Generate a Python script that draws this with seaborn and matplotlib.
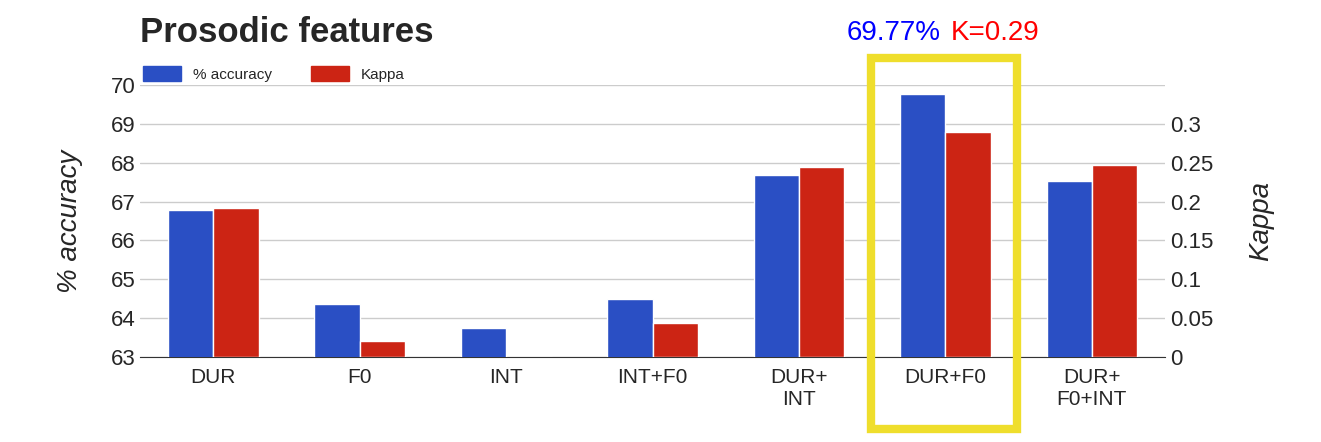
import matplotlib
matplotlib.use("Agg")
import matplotlib.pyplot as plt
import seaborn as sns
import numpy as np
from matplotlib.patches import Rectangle, Patch

sns.set_style("white")
plt.rcParams['font.family'] = ['Liberation Sans', 'DejaVu Sans']

categories = ["DUR", "F0", "INT", "INT+F0", "DUR+\nINT", "DUR+F0", "DUR+\nF0+INT"]
accuracy = [66.78, 64.36, 63.75, 64.5, 67.67, 69.77, 67.52]
kappa = [0.192, 0.021, 0.0, 0.044, 0.245, 0.29, 0.247]

blue = "#2a4fc4"
red = "#cc2414"

fig = plt.figure(figsize=(13.21, 4.42), dpi=100)
ax = fig.add_axes([0.106, 0.192, 0.776, 0.616])
ax2 = ax.twinx()

x = np.arange(len(categories))
w = 0.31
ax.bar(x - w / 2, accuracy, width=w, color=blue, bottom=0, zorder=3)
ax2.bar(x + w / 2, kappa, width=w, color=red, zorder=3)

ax.set_ylim(63, 70)
ax.set_xlim(-0.5, len(categories) - 0.5)
ax.set_yticks(range(63, 71))
ax2.set_ylim(0, 0.35)
ax2.set_yticks([0, 0.05, 0.1, 0.15, 0.2, 0.25, 0.3])
ax2.set_yticklabels(["0", "0.05", "0.1", "0.15", "0.2", "0.25", "0.3"])

ax.yaxis.grid(True, color="#cccccc", linewidth=1, zorder=0)
ax.set_xticks(x)
ax.set_xticklabels(categories, fontsize=15)
ax.tick_params(axis="y", labelsize=16, length=0)
ax2.tick_params(axis="y", labelsize=16, length=0)
ax.tick_params(axis="x", length=0, pad=8)
for a in (ax, ax2):
    for s in a.spines.values():
        s.set_visible(False)
ax.spines["bottom"].set_visible(True)
ax.spines["bottom"].set_color("#333333")

ax.set_ylabel("% accuracy", fontsize=20, style="italic", labelpad=20)
ax2.set_ylabel("Kappa", fontsize=20, style="italic", labelpad=25)

fig.text(0.106, 0.89, "Prosodic features", fontsize=25, fontweight="bold", va="bottom")
ax.legend(handles=[Patch(color=blue, label="% accuracy"), Patch(color=red, label="Kappa")],
          loc="lower left", bbox_to_anchor=(0.0, 1.0), ncol=2, frameon=False,
          fontsize=11, handlelength=2.5, handleheight=1.2, columnspacing=2.5,
          borderaxespad=0.1, borderpad=0.1)

fig.text(0.712, 0.895, "69.77%", color="blue", fontsize=20, ha="right", va="bottom")
fig.text(0.720, 0.895, "K=0.29", color="red", fontsize=20, ha="left", va="bottom")

fig.patches.append(Rectangle((0.659, 0.03), 0.111, 0.838, transform=fig.transFigure,
                             fill=False, edgecolor="#efde2c", linewidth=6))

fig.savefig("out.png", dpi=100)
